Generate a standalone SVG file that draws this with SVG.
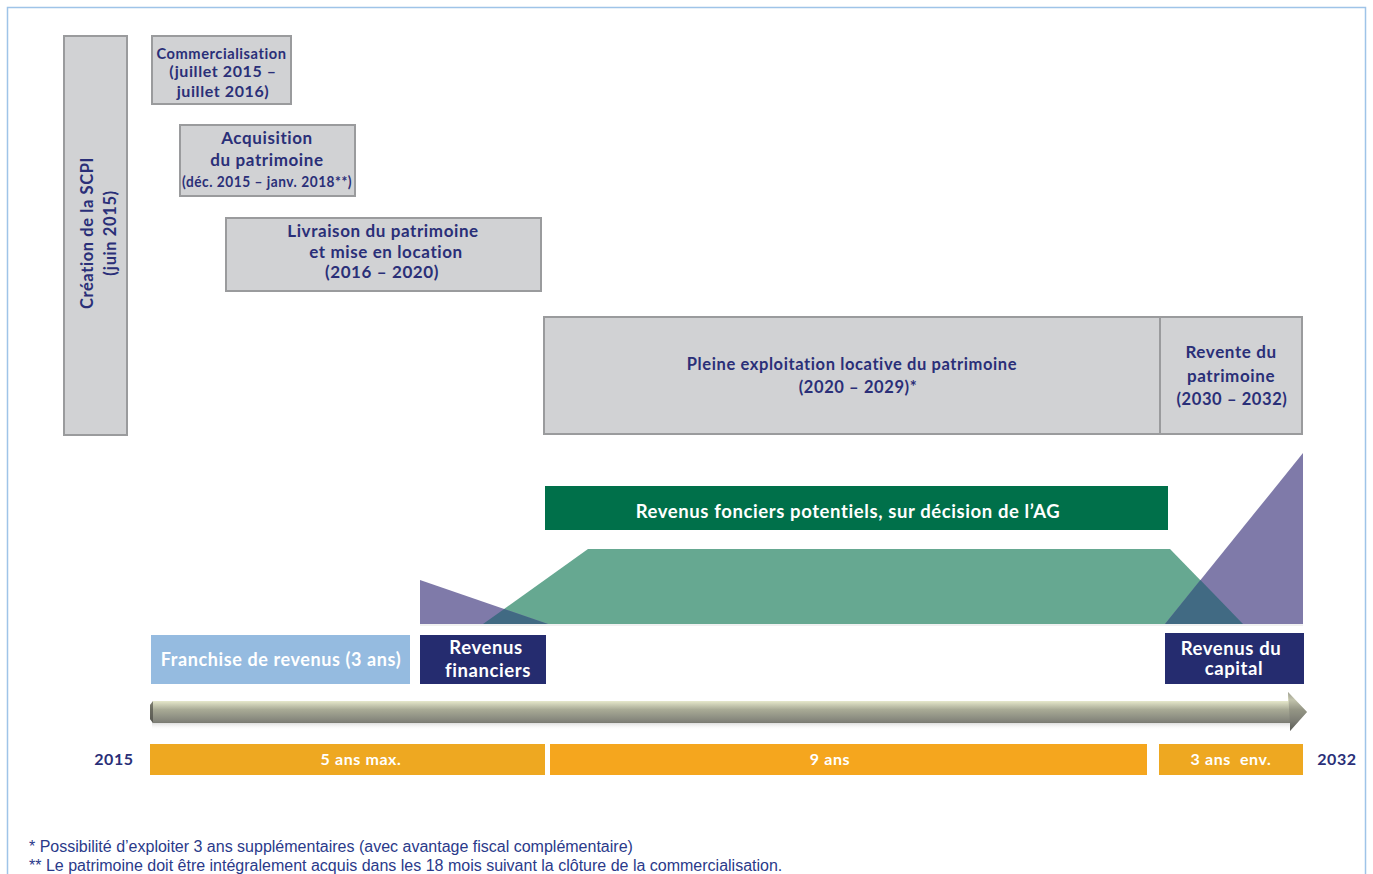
<svg xmlns="http://www.w3.org/2000/svg" width="1373" height="874" viewBox="0 0 1373 874">
<defs>
<style>
.box{fill:#d1d2d4;stroke:#9a9b9d;stroke-width:2}
.t{font-family:Lato,"Open Sans",sans-serif;font-weight:bold;fill:#2a2f78;text-anchor:middle;letter-spacing:0.6px}
.w{font-family:Lato,"Open Sans",sans-serif;font-weight:bold;fill:#ffffff;text-anchor:middle;letter-spacing:0.6px}
.foot{font-family:"Liberation Sans",Arial,sans-serif;font-size:16px;fill:#2a3a8a}
.navy{fill:#252c6f}
.orange{fill:#eea821}
</style>
<linearGradient id="shaft" x1="0" y1="0" x2="0" y2="1">
<stop offset="0" stop-color="#b9baa9"/>
<stop offset="0.2" stop-color="#eef0d2"/>
<stop offset="0.45" stop-color="#a9ab96"/>
<stop offset="0.75" stop-color="#82837a"/>
<stop offset="1" stop-color="#4e4f4a"/>
</linearGradient>
<linearGradient id="shadow" x1="0" y1="0" x2="0" y2="1">
<stop offset="0" stop-color="#c8c8c8" stop-opacity="0.8"/>
<stop offset="1" stop-color="#ffffff" stop-opacity="0"/>
</linearGradient>
</defs>
<rect x="0" y="0" width="1373" height="874" fill="#ffffff"/>
<rect x="7.5" y="7.5" width="1358" height="880" fill="none" stroke="#9fc4e8" stroke-width="1.5"/>

<g id="creation">
<rect class="box" x="64" y="36" width="63" height="399"/>
<text class="t" transform="translate(93,233) rotate(-90)" font-size="16.5" font-family="'Liberation Sans',sans-serif" letter-spacing="0.7">Création de la SCPI</text>
<text class="t" transform="translate(116,233) rotate(-90)" font-size="16.5" font-family="'Liberation Sans',sans-serif" letter-spacing="0.7">(juin 2015)</text>
</g>

<g id="commercialisation">
<rect class="box" x="152" y="36" width="139" height="68"/>
<text class="t" x="221.5" y="59" font-size="16" textLength="130" lengthAdjust="spacingAndGlyphs">Commercialisation</text>
<text class="t" x="223" y="77" font-size="16">(juillet 2015 –</text>
<text class="t" x="223" y="97" font-size="16">juillet 2016)</text>
</g>

<g id="acquisition">
<rect class="box" x="180" y="125" width="175" height="71"/>
<text class="t" x="267" y="144" font-size="17">Acquisition</text>
<text class="t" x="267" y="166" font-size="17">du patrimoine</text>
<text class="t" x="267" y="187" font-size="15.5" textLength="170" lengthAdjust="spacingAndGlyphs">(déc. 2015 – janv. 2018**)</text>
</g>

<g id="livraison">
<rect class="box" x="226" y="218" width="315" height="73"/>
<text class="t" x="383" y="237" font-size="17">Livraison du patrimoine</text>
<text class="t" x="386" y="258" font-size="17">et mise en location</text>
<text class="t" x="382" y="278" font-size="17">(2016 – 2020)</text>
</g>

<g id="exploitation">
<rect class="box" x="544" y="317" width="616" height="117"/>
<text class="t" x="852" y="370" font-size="16.5">Pleine exploitation locative du patrimoine</text>
<text class="t" x="858" y="393" font-size="16.5">(2020 – 2029)*</text>
</g>

<g id="revente">
<rect class="box" x="1160" y="317" width="142" height="117"/>
<text class="t" x="1231" y="358" font-size="17">Revente du</text>
<text class="t" x="1231" y="382" font-size="17">patrimoine</text>
<text class="t" x="1232" y="405" font-size="16.5" letter-spacing="0.2">(2030 – 2032)</text>
</g>

<g id="revenus-fonciers">
<rect x="545" y="486" width="623" height="44" fill="#00704a"/>
<text class="w" x="848" y="518" font-size="18.5" letter-spacing="0.9">Revenus fonciers potentiels, sur décision de l’AG</text>
</g>

<g id="areas">
<polygon points="483,624 588,549 1170,549 1243,624" fill="#66a891"/>
<polygon points="420,580 420,624 548,624" fill="#7f7aa9"/>
<polygon points="1165,624 1303,453 1303,624" fill="#7f7aa9"/>
<polygon points="483,624 504.2,608.9 548,624" fill="#416a83"/>
<polygon points="1165,624 1200.4,580.1 1243,624" fill="#416a83"/>
<line x1="420" y1="625" x2="1303" y2="625" stroke="#e2e2e2" stroke-width="1"/>
</g>

<g id="franchise">
<rect x="151" y="635" width="259" height="49" fill="#95bbe0"/>
<text class="w" x="281" y="666" font-size="18" letter-spacing="0.4">Franchise de revenus (3 ans)</text>
</g>

<g id="revenus-financiers">
<rect class="navy" x="420" y="635" width="126" height="49"/>
<text class="w" x="486" y="654" font-size="18.5">Revenus</text>
<text class="w" x="488" y="677" font-size="18.5">financiers</text>
</g>

<g id="revenus-capital">
<rect class="navy" x="1165" y="633" width="139" height="51"/>
<text class="w" x="1231" y="655" font-size="18.5">Revenus du</text>
<text class="w" x="1234" y="675" font-size="18.5">capital</text>
</g>

<g id="connectors">
<rect x="152" y="722" width="1140" height="8" fill="url(#shadow)"/>
<path d="M153,701 L1288,701 L1288,692 L1307,712 L1290,731 L1290,723 L153,723 L150,719 L150,705 Z" fill="url(#shaft)"/>
<path d="M1288,692 L1307,712 L1290,731 L1290,723 Z" fill="#6f7066" opacity="0.35"/>
<path d="M150,705 L153,701 L153,723 L150,719 Z" fill="#3f403b" opacity="0.6"/>
</g>

<g id="timeline">
<text class="t" x="114" y="765" font-size="16" font-family="'Liberation Sans',sans-serif" letter-spacing="0.3">2015</text>
<rect class="orange" x="150" y="744" width="395" height="31"/>
<text class="w" x="361" y="765" font-size="16" letter-spacing="0.9">5 ans max.</text>
<rect x="550" y="744" width="597" height="31" fill="#f5a61e"/>
<text class="w" x="830" y="765" font-size="16" letter-spacing="0.9">9 ans</text>
<rect class="orange" x="1159" y="744" width="144" height="31"/>
<text class="w" x="1231" y="765" font-size="16" letter-spacing="0.9" xml:space="preserve">3 ans  env.</text>
<text class="t" x="1337" y="765" font-size="16" font-family="'Liberation Sans',sans-serif" letter-spacing="0.3">2032</text>
</g>

<g id="footnotes">
<text class="foot" x="29" y="852">* Possibilité d’exploiter 3 ans supplémentaires (avec avantage fiscal complémentaire)</text>
<text class="foot" x="29" y="871">** Le patrimoine doit être intégralement acquis dans les 18 mois suivant la clôture de la commercialisation.</text>
</g>
</svg>
